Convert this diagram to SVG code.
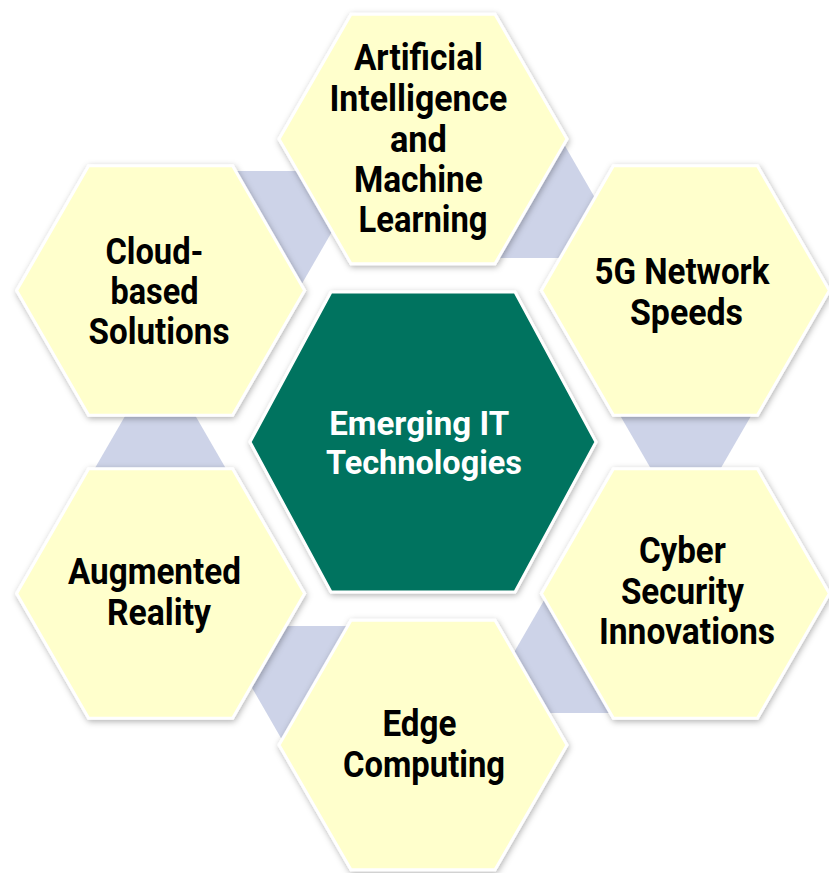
<svg xmlns="http://www.w3.org/2000/svg" xmlns:xlink="http://www.w3.org/1999/xlink" width="829" height="873" viewBox="0 0 829 873">
  <style>
    .band { fill: #cdd3e8; }
    .hex { fill: #ffffcc; stroke: #ffffff; stroke-width: 3; filter: url(#shade); }
    .core { fill: #02735f; stroke: #ffffff; stroke-width: 3; filter: url(#shade); }
    .lbl { font-family: "Roboto", "Liberation Sans", sans-serif; font-weight: 700; font-size: 37px; fill: #000000; text-anchor: middle; }
    .lbl-core { font-family: "Roboto", "Liberation Sans", sans-serif; font-weight: 700; font-size: 34px; fill: #ffffff; text-anchor: middle; }
  </style>
  <defs>
    <filter id="shade" x="-10%" y="-10%" width="120%" height="120%">
      <feDropShadow dx="1" dy="2" stdDeviation="3" flood-color="#000000" flood-opacity="0.3"/>
    </filter>
    <!-- outer hexagon, flat top, radius 144 -->
    <polygon id="hexOuter" points="-144,0 -72,-124.7 72,-124.7 144,0 72,124.7 -72,124.7"/>
    <!-- band between the two right-hand hexagons; others are rotations of it -->
    <polygon id="bandShape" points="615.8,408 755.6,408 716.3,476 655.1,476"/>
  </defs>

  <rect width="829" height="873" fill="#ffffff"/>

  <g id="connectors" class="band">
    <use xlink:href="#bandShape"/>
    <use xlink:href="#bandShape" transform="rotate(60 423 442)"/>
    <use xlink:href="#bandShape" transform="rotate(120 423 442)"/>
    <use xlink:href="#bandShape" transform="rotate(180 423 442)"/>
    <use xlink:href="#bandShape" transform="rotate(240 423 442)"/>
    <use xlink:href="#bandShape" transform="rotate(300 423 442)"/>
  </g>

  <g id="node-ai">
    <use xlink:href="#hexOuter" class="hex" transform="translate(423 139)"/>
    <text class="lbl">
      <tspan x="423" y="70" textLength="129" lengthAdjust="spacingAndGlyphs">Artificial</tspan>
      <tspan x="423" y="111" textLength="178" lengthAdjust="spacingAndGlyphs">Intelligence</tspan>
      <tspan x="423" y="152" textLength="57" lengthAdjust="spacingAndGlyphs">and</tspan>
      <tspan x="423" y="192" textLength="129" lengthAdjust="spacingAndGlyphs">Machine</tspan>
      <tspan x="423" y="232" textLength="129" lengthAdjust="spacingAndGlyphs">Learning</tspan>
    </text>
  </g>

  <g id="node-5g">
    <use xlink:href="#hexOuter" class="hex" transform="translate(685.4 290.5)"/>
    <text class="lbl">
      <tspan x="686.5" y="284" textLength="175" lengthAdjust="spacingAndGlyphs">5G Network</tspan>
      <tspan x="686.5" y="325" textLength="113" lengthAdjust="spacingAndGlyphs">Speeds</tspan>
    </text>
  </g>

  <g id="node-cyber">
    <use xlink:href="#hexOuter" class="hex" transform="translate(685.4 593.5)"/>
    <text class="lbl">
      <tspan x="687" y="563" textLength="87" lengthAdjust="spacingAndGlyphs">Cyber</tspan>
      <tspan x="687" y="604" textLength="123" lengthAdjust="spacingAndGlyphs">Security</tspan>
      <tspan x="687" y="644" textLength="176" lengthAdjust="spacingAndGlyphs">Innovations</tspan>
    </text>
  </g>

  <g id="node-edge">
    <use xlink:href="#hexOuter" class="hex" transform="translate(423 745)"/>
    <text class="lbl">
      <tspan x="424" y="736" textLength="74" lengthAdjust="spacingAndGlyphs">Edge</tspan>
      <tspan x="424" y="777" textLength="162" lengthAdjust="spacingAndGlyphs">Computing</tspan>
    </text>
  </g>

  <g id="node-ar">
    <use xlink:href="#hexOuter" class="hex" transform="translate(160.6 593.5)"/>
    <text class="lbl">
      <tspan x="159" y="584" textLength="173" lengthAdjust="spacingAndGlyphs">Augmented</tspan>
      <tspan x="159" y="625" textLength="104" lengthAdjust="spacingAndGlyphs">Reality</tspan>
    </text>
  </g>

  <g id="node-cloud">
    <use xlink:href="#hexOuter" class="hex" transform="translate(160.6 290.5)"/>
    <text class="lbl">
      <tspan x="159" y="264" textLength="98" lengthAdjust="spacingAndGlyphs">Cloud-</tspan>
      <tspan x="159" y="304" textLength="88" lengthAdjust="spacingAndGlyphs">based</tspan>
      <tspan x="159" y="344" textLength="141" lengthAdjust="spacingAndGlyphs">Solutions</tspan>
    </text>
  </g>

  <g id="node-center">
    <polygon class="core" points="250,442 331,292 515,292 596,442 515,592 331,592"/>
    <text class="lbl-core">
      <tspan x="423" y="435" textLength="179" lengthAdjust="spacingAndGlyphs">Emerging IT</tspan>
      <tspan x="424" y="474" textLength="196" lengthAdjust="spacingAndGlyphs">Technologies</tspan>
    </text>
  </g>
</svg>
